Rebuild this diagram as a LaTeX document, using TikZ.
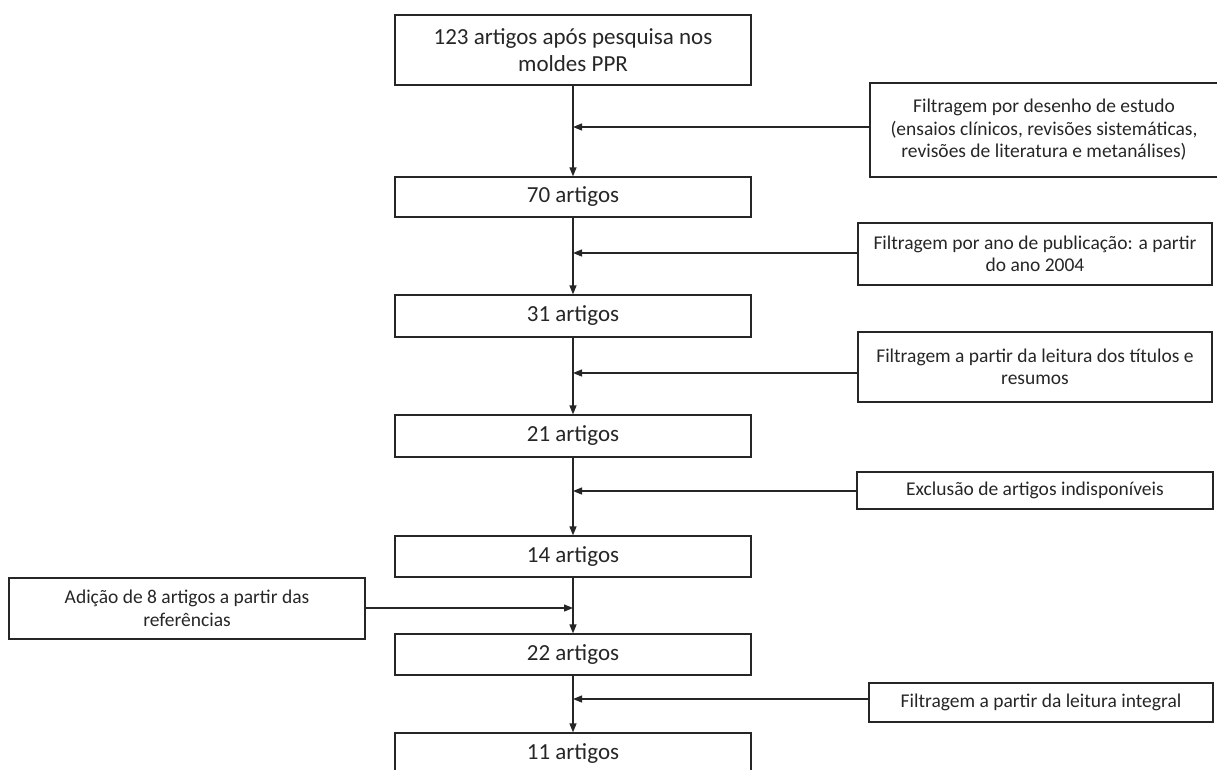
\documentclass[tikz,border=0pt]{standalone}
\usepackage{fontspec}
\setmainfont{Carlito}
\usetikzlibrary{arrows.meta}
\begin{document}
\begin{tikzpicture}[x=1pt,y=-1pt,
  box/.style={draw=black!85, line width=1.3pt, inner sep=0pt, align=center, text=black!85},
  mainbox/.style={box, minimum width=356pt, font=\fontsize{23}{27.5}\selectfont},
  sidebox/.style={box, font=\fontsize{19.5}{22.5}\selectfont},
  conn/.style={draw=black!85, line width=1.3pt},
  arr/.style={conn, -{Triangle[length=9pt,width=7pt]}}]
\useasboundingbox (0,0) rectangle (1217,769);
% main column
\node[mainbox, minimum height=70pt] (b1) at (573,50) {123 artigos após pesquisa nos\\moldes PPR};
\node[mainbox, minimum height=40pt] (b2) at (573,197) {70 artigos};
\node[mainbox, minimum height=42pt] (b3) at (573,316) {31 artigos};
\node[mainbox, minimum height=42pt] (b4) at (573,436) {21 artigos};
\node[mainbox, minimum height=41pt] (b5) at (573,556.5) {14 artigos};
\node[mainbox, minimum height=41pt] (b6) at (573,654.5) {22 artigos};
\node[mainbox, minimum height=41pt] (b7) at (573,753.5) {11 artigos};
% side boxes
\node[sidebox, minimum width=348pt, minimum height=94pt] (f1) at (1044,130) {Filtragem por desenho de estudo\\(ensaios clínicos, revisões sistemáticas,\\revisões de literatura e metanálises)};
\node[sidebox, minimum width=354pt, minimum height=62pt] (f2) at (1035,254) {Filtragem por ano de publicação: a partir\\do ano 2004};
\node[sidebox, minimum width=354pt, minimum height=70pt] (f3) at (1035,367) {Filtragem a partir da leitura dos títulos e\\resumos};
\node[sidebox, minimum width=356pt, minimum height=37pt] (f4) at (1035,490.5) {Exclusão de artigos indisponíveis};
\node[sidebox, minimum width=356pt, minimum height=61pt] (fa) at (187,608.5) {Adição de 8 artigos a partir das\\referências};
\node[sidebox, minimum width=344pt, minimum height=39pt] (f5) at (1041,702.5) {Filtragem a partir da leitura integral};
% junctions
\coordinate (j1) at (573,127);
\coordinate (j2) at (573,253);
\coordinate (j3) at (573,373);
\coordinate (j4) at (573,491);
\coordinate (ja) at (573,608);
\coordinate (j5) at (573,699);
% vertical connectors
\draw[arr] (b1.south) -- (b2.north);
\draw[arr] (b2.south) -- (b3.north);
\draw[arr] (b3.south) -- (b4.north);
\draw[arr] (b4.south) -- (b5.north);
\draw[arr] (b5.south) -- (b6.north);
\draw[arr] (b6.south) -- (b7.north);
% horizontal connectors
\draw[arr] (f1.west |- j1) -- (j1);
\draw[arr] (f2.west |- j2) -- (j2);
\draw[arr] (f3.west |- j3) -- (j3);
\draw[arr] (f4.west |- j4) -- (j4);
\draw[arr] (fa.east |- ja) -- (ja);
\draw[arr] (f5.west |- j5) -- (j5);
\end{tikzpicture}
\end{document}
